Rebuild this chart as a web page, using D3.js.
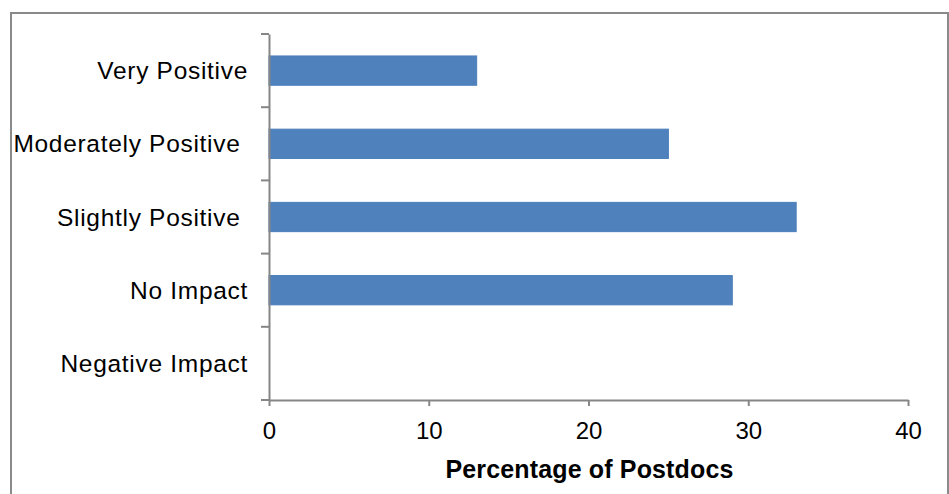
<!DOCTYPE html>
<html>
<head>
<meta charset="utf-8">
<script src="https://cdn.jsdelivr.net/npm/d3@7"></script>
<style>
  html, body { margin: 0; padding: 0; background: #fff; }
  svg { display: block; font-family: "Liberation Sans", Arial, sans-serif; }
</style>
</head>
<body>
<svg id="chart" width="949" height="494"></svg>
<script>
// Survey responses: perceived impact, percentage of postdocs
const categories = ["Very Positive", "Moderately Positive ", "Slightly Positive ", "No Impact", "Negative Impact"];
const percentages = [13, 25, 33, 29, 0];
const xTicks = [0, 10, 20, 30, 40];
const xTitle = "Percentage of Postdocs";

const svg = d3.select("#chart");

// outer frame
svg.append("rect")
  .attr("x", 11).attr("y", 13)
  .attr("width", 937).attr("height", 500)
  .attr("fill", "#fff")
  .attr("stroke", "#8a8a8a")
  .attr("stroke-width", 2);

const plot = { left: 269, right: 908, top: 34, bottom: 400 };

const x = d3.scaleLinear().domain([0, 40]).range([plot.left, plot.right]);
const y = d3.scaleBand().domain(categories)
  .range([plot.top, plot.bottom])
  .paddingInner(0.6).paddingOuter(0.3);

// bars
svg.append("g")
  .selectAll("rect")
  .data(categories.map((c, i) => ({ c, v: percentages[i] })))
  .join("rect")
  .attr("x", x(0))
  .attr("y", d => y(d.c))
  .attr("width", d => x(d.v) - x(0))
  .attr("height", y.bandwidth())
  .attr("fill", "#4f81bd")
  .attr("stroke", d => d.v > 0 ? "#4a7ebb" : "none")
  .attr("stroke-width", 1);

const axisColor = "#868686";

// x axis
const gx = svg.append("g")
  .attr("transform", `translate(0,${plot.bottom})`)
  .call(d3.axisBottom(x).tickValues(xTicks).tickSize(6).tickSizeOuter(0));
gx.select(".domain").attr("stroke", axisColor).attr("stroke-width", 2);
gx.selectAll(".tick line").attr("stroke", axisColor).attr("stroke-width", 2);
gx.selectAll(".tick text")
  .attr("y", 39).attr("dy", 0)
  .attr("fill", "#000")
  .style("font-size", "24px");

// y axis: labels centred on bands, ticks on band boundaries
const gy = svg.append("g")
  .attr("transform", `translate(${plot.left},0)`)
  .call(d3.axisLeft(y).tickSize(0).tickPadding(21).tickSizeOuter(0));
gy.select(".domain").attr("stroke", axisColor).attr("stroke-width", 2);
gy.selectAll(".tick text")
  .attr("fill", "#000")
  .style("font-size", "24.5px")
  .style("letter-spacing", "0.7px")
  .style("white-space", "pre")
  .attr("dy", "0.35em");

const step = y.step();
const bounds = d3.range(categories.length + 1).map(i => plot.top + i * step);
gy.selectAll(".boundary")
  .data(bounds)
  .join("line")
  .attr("class", "boundary")
  .attr("x1", -8).attr("x2", 0)
  .attr("y1", d => d).attr("y2", d => d)
  .attr("stroke", axisColor)
  .attr("stroke-width", 2);

// x axis title
svg.append("text")
  .attr("x", (plot.left + plot.right) / 2 + 1)
  .attr("y", 478)
  .attr("text-anchor", "middle")
  .attr("font-weight", "bold")
  .attr("font-size", "25px")
  .style("letter-spacing", "0.15px")
  .attr("fill", "#000")
  .text(xTitle);
</script>
</body>
</html>
